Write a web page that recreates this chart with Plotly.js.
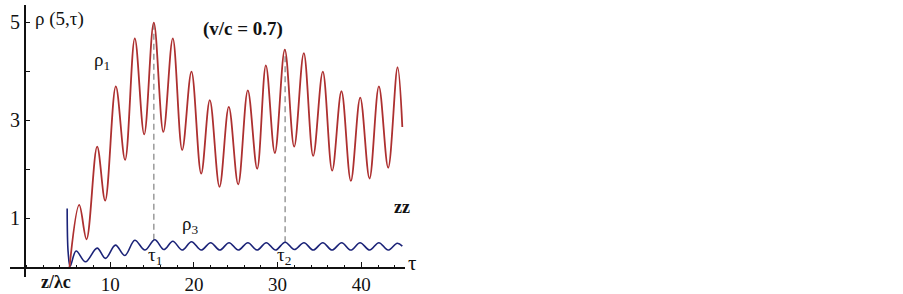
<!DOCTYPE html>
<html>
<head>
<meta charset="utf-8">
<script src="https://cdn.plot.ly/plotly-3.0.1.min.js"></script>
<style>html,body{margin:0;padding:0;background:#fff;}#chart{width:903px;height:294px;}</style>
</head>
<body>
<div id="chart"></div>
<script>
// ρ1 (red) — extrema
var rho1Tau = [5.14, 6.3, 7.17, 8.44, 9.4, 10.67, 11.78, 12.94, 14.06, 15.21, 16.35, 17.48, 18.6, 19.71, 20.87, 21.9, 23.06, 24.17, 25.29, 26.44, 27.56, 28.6, 29.67, 30.86, 31.98, 33.13, 34.25, 35.4, 36.52, 37.63, 38.75, 39.87, 40.98, 42.1, 43.21, 44.33, 44.9];
var rho1Val = [0.0, 1.27, 0.57, 2.46, 1.36, 3.69, 2.19, 4.67, 2.71, 4.99, 2.76, 4.67, 2.39, 3.99, 1.91, 3.41, 1.64, 3.27, 1.69, 3.61, 2.01, 4.12, 2.33, 4.44, 2.46, 4.37, 2.27, 3.99, 1.97, 3.59, 1.76, 3.46, 1.81, 3.69, 2.03, 4.08, 2.86];

// ρ3 (blue)
var rho3Tau = [4.86, 4.98, 5.22, 5.93, 7.05, 8.44, 9.44, 10.63, 11.75, 12.94, 14.14, 15.33, 16.41, 17.48, 18.6, 19.71, 20.87, 22.0, 23.1, 24.2, 25.3, 26.45, 27.55, 28.65, 29.75, 30.9, 32.0, 33.15, 34.25, 35.4, 36.5, 37.65, 38.75, 39.85, 41.0, 42.1, 43.2, 44.3, 44.9];
var rho3Val = [1.2, 0.3, 0.02, 0.33, 0.11, 0.39, 0.18, 0.45, 0.24, 0.55, 0.35, 0.56, 0.36, 0.53, 0.35, 0.52, 0.35, 0.5, 0.35, 0.5, 0.35, 0.5, 0.35, 0.5, 0.35, 0.51, 0.36, 0.5, 0.35, 0.5, 0.35, 0.5, 0.35, 0.5, 0.35, 0.5, 0.35, 0.49, 0.43];

// marked times τ1, τ2 and the dashed guide extents
var markTau = [15.21, 30.9];
var markLow = [0.56, 0.51];
var markHigh = [4.99, 4.44];

// axis ticks
var xTickVals = [10, 20, 30, 40];
var xTickText = ['10', '20', '30', '40'];
var yTickVals = [1, 2, 3, 4, 5];
var yTickText = ['1', '', '3', '', '5'];

var dashX = [], dashY = [];
for (var i = 0; i < markTau.length; i++) {
  dashX.push(markTau[i], markTau[i], null);
  dashY.push(markLow[i], markHigh[i], null);
}

var traces = [
  {x: dashX, y: dashY, mode: 'lines', line: {color: '#a0a0a0', width: 1.6, dash: '6px,4px'}, hoverinfo: 'skip'},
  {x: rho3Tau, y: rho3Val, mode: 'lines', line: {color: '#1b2378', width: 1.6, shape: 'spline', smoothing: 1}},
  {x: rho1Tau, y: rho1Val, mode: 'lines', line: {color: '#ad3030', width: 1.8, shape: 'spline', smoothing: 1}}
];

// plot area in pixels
var L = 10, R = 405, T = 5, B = 277;
function px(x) { return (x - L) / (R - L); }
function py(y) { return (B - y) / (B - T); }

var serif = '"Liberation Serif", "Times New Roman", Times, serif';
function ann(text, x, y, size, bold, anchor) {
  return {text: bold ? '<b>' + text + '</b>' : text, xref: 'paper', yref: 'paper', x: px(x), y: py(y),
    xanchor: anchor || 'center', yanchor: 'middle', showarrow: false,
    font: {family: serif, size: size, color: '#111'}};
}

var layout = {
  width: 903, height: 294,
  margin: {l: L, r: 903 - R, t: T, b: 294 - B},
  paper_bgcolor: '#fff', plot_bgcolor: '#fff',
  showlegend: false,
  font: {family: serif},
  xaxis: {
    range: [-1.97, 45.22], anchor: 'free', position: (B - 267) / (B - T),
    showgrid: false, zeroline: false, showline: true, linecolor: '#111', linewidth: 1.5,
    tickmode: 'array', tickvals: xTickVals, ticktext: xTickText,
    ticks: 'inside', ticklen: 5, tickcolor: '#111', tickwidth: 1,
    minor: {dtick: 2, tick0: 0, ticks: 'inside', ticklen: 2.5, tickcolor: '#111', tickwidth: 1},
    tickfont: {family: serif, size: 19, color: '#111'}
  },
  yaxis: {
    range: [-0.2, 5.35], anchor: 'free', position: (24 - L) / (R - L),
    showgrid: false, zeroline: false, showline: true, linecolor: '#111', linewidth: 1.5,
    tickmode: 'array', tickvals: yTickVals, ticktext: yTickText,
    ticks: 'inside', ticklen: 4, tickcolor: '#111', tickwidth: 1,
    tickfont: {family: serif, size: 20, color: '#111'}
  },
  annotations: [
    ann('ρ (5,τ)', 33, 19, 19, false, 'left'),
    ann('(v/c = 0.7)', 201, 29, 19, true, 'left'),
    ann('ρ<sub>1</sub>', 102, 61, 19, false),
    ann('ρ<sub>3</sub>', 190, 225, 19, false),
    ann('τ<sub>1</sub>', 155, 256, 19, false),
    ann('τ<sub>2</sub>', 284, 256, 19, false),
    ann('zz', 402, 207, 18, true),
    ann('τ', 412, 263, 21, false),
    ann('z/λc', 56, 282, 18, true)
  ]
};

Plotly.newPlot('chart', traces, layout, {displayModeBar: false, staticPlot: true});
</script>
</body>
</html>
